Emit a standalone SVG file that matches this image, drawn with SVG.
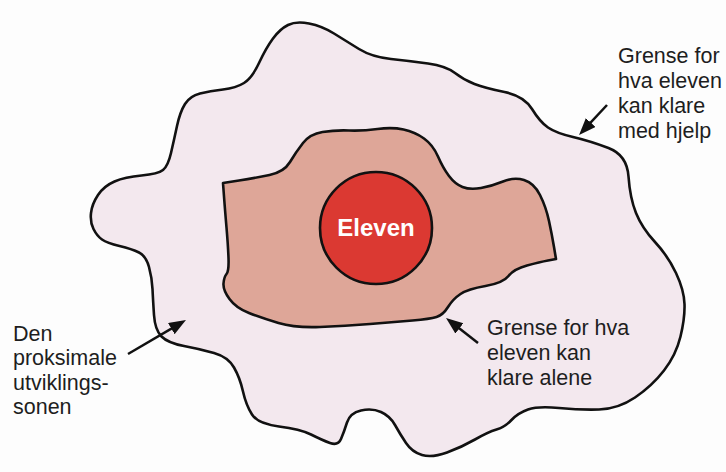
<svg xmlns="http://www.w3.org/2000/svg" width="726" height="472" viewBox="0 0 726 472">
<style>
.zone{stroke:#111;stroke-width:2.6;stroke-linejoin:round}
.lbl{font-family:"Liberation Sans",Arial,sans-serif;font-size:21.5px;fill:#1e1e1e}
.arr{stroke:#111;stroke-width:2.5;fill:none}
</style>
<defs>
<marker id="ah" markerUnits="userSpaceOnUse" markerWidth="18" markerHeight="14" refX="8" refY="6.5" orient="auto">
<path d="M0,0 L17,6.5 L0,13 Z" fill="#111"/>
</marker>
</defs>
<rect width="726" height="472" fill="#fdfdfd"/>
<g id="outer-zone">
<path class="zone" fill="#f3e8ee" d="M102,239.5 Q97,236 93.5,229 Q90,222 91,213 Q92,204 98,195 Q104,186 114.5,181.5 Q125,177 141.5,175.5 Q158,174 163,170 Q168,166 171,153 Q174,140 177,126 Q180,112 185,104 Q190,96 200,93.5 Q210,91 223,89.5 Q236,88 244,83 Q252,78 259,63 Q266,48 273,38.5 Q280,29 288,25 Q296,21 309,23.5 Q322,26 334,33.5 Q346,41 359,49 Q372,57 391,59 Q410,61 428,63.5 Q446,66 455,73 Q464,80 474.5,84 Q485,88 504.5,92 Q524,96 532,109 Q540,122 548,127.5 Q556,133 573,137 Q590,141 608.5,148 Q627,155 628.5,176.5 Q630,198 636,213 Q642,228 655,242 Q668,256 676,273 Q684,290 684.5,304 Q685,318 680.5,336.5 Q676,355 664,370.5 Q652,386 635,397.5 Q618,409 599,409.5 Q580,410 559,408 Q538,406 528,409.5 Q518,413 511.5,420 Q505,427 496.5,429.5 Q488,432 475,439.5 Q462,447 447,452.5 Q432,458 422,455 Q412,452 406,443 Q400,434 395,425 Q390,416 381,412 Q372,408 361,410.5 Q350,413 347,422.5 Q344,432 341,439 Q338,446 330,443 Q322,440 311,434.5 Q300,429 279,426.5 Q258,424 252,414.5 Q246,405 243,391.5 Q240,378 234,367.5 Q228,357 214,353 Q200,349 184,346 Q168,343 161.5,336.5 Q155,330 154,315 Q153,300 152.5,289 Q152,278 149,267 Q146,256 139,252.5 Q132,249 119.5,246 Q107,243 102,239.5 Z"/>
</g>
<g id="inner-zone">
<path class="zone" fill="#dea698" d="M223,183 L239,180.5 Q255,178 269.5,175 Q284,172 290,162 Q296,152 303,143 Q310,134 322.5,132 Q335,130 349,130.5 Q363,131 377.5,129 Q392,127 403.5,129.5 Q415,132 424,138.5 Q433,145 438,156.5 Q443,168 449,176 Q455,184 462.5,187 Q470,190 481,188 Q492,186 503,181.5 Q514,177 524,180 Q534,183 540,195 Q546,207 549,221 Q552,235 554,247 L556,259 L548,260.5 Q540,262 527,265.5 Q514,269 508.5,276 Q503,283 485.5,286 Q468,289 460.5,294 Q453,299 448,307 Q443,315 436.5,317 Q430,319 412.5,320.5 Q395,322 370,324 Q345,326 320,327 Q295,328 278.5,323 Q262,318 249,313 Q236,308 229.5,299 Q223,290 223.5,283.5 Q224,277 226.5,274 Q229,271 228.5,258 Q228,245 226.5,227.5 Q225,210 224,196.5 L223,183 Z"/>
</g>
<g id="eleven">
<circle cx="376" cy="228" r="56" fill="#db3932" stroke="#111" stroke-width="2.6"/>
<text x="376" y="236" text-anchor="middle" font-family="'Liberation Sans',Arial,sans-serif" font-size="24" font-weight="bold" fill="#ffffff">Eleven</text>
</g>
<g id="label-med-hjelp">
<text class="lbl" x="618" y="63">Grense for</text>
<text class="lbl" x="618" y="88">hva eleven</text>
<text class="lbl" x="618" y="113">kan klare</text>
<text class="lbl" x="618" y="138">med hjelp</text>
</g>
<g id="label-alene">
<text class="lbl" x="487" y="335">Grense for hva</text>
<text class="lbl" x="487" y="360">eleven kan</text>
<text class="lbl" x="487" y="385">klare alene</text>
</g>
<g id="label-sonen">
<text class="lbl" x="13" y="341">Den</text>
<text class="lbl" x="13" y="365">proksimale</text>
<text class="lbl" x="13" y="390">utviklings-</text>
<text class="lbl" x="13" y="414">sonen</text>
</g>
<g id="connectors">
<line class="arr" x1="607" y1="105" x2="585.2" y2="128.4" marker-end="url(#ah)"/>
<line class="arr" x1="128" y1="354" x2="178.2" y2="324.6" marker-end="url(#ah)"/>
<line class="arr" x1="478" y1="343" x2="453.1" y2="323.5" marker-end="url(#ah)"/>
</g>
</svg>
